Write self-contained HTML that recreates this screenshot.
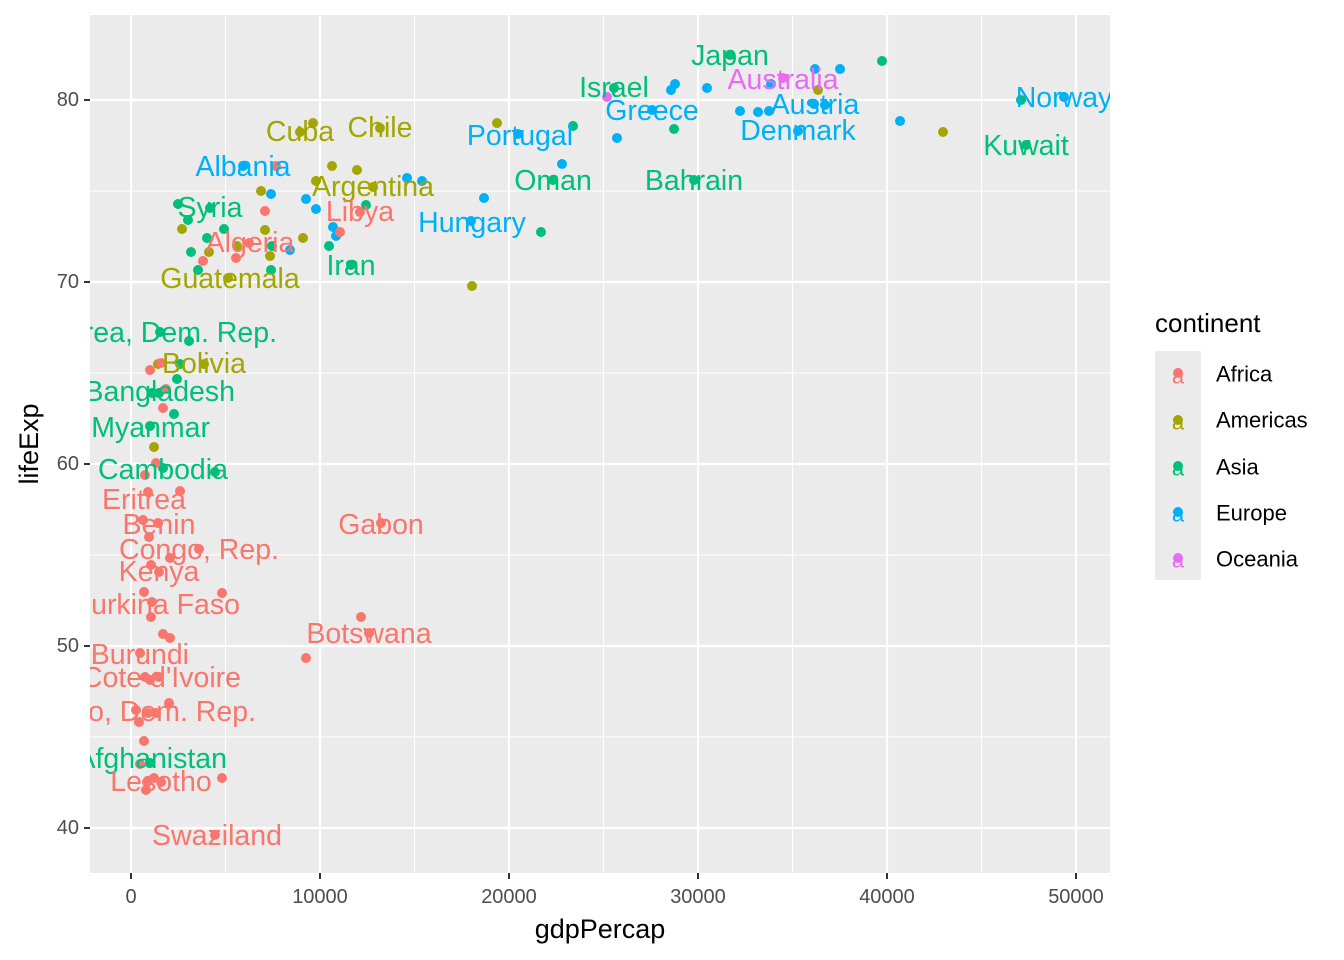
<!DOCTYPE html>
<html><head><meta charset="utf-8"><style>body{margin:0;background:#fff}svg{display:block}</style></head><body>
<svg width="1344" height="960" xmlns="http://www.w3.org/2000/svg" font-family="Liberation Sans, sans-serif">
<defs><clipPath id="c"><rect x="90" y="15" width="1020" height="858"/></clipPath></defs>
<rect x="90" y="15" width="1020" height="858" fill="#ebebeb"/>
<g stroke="#fff" stroke-width="1.1">
<line x1="225.5" y1="15" x2="225.5" y2="873"/><line x1="414.5" y1="15" x2="414.5" y2="873"/><line x1="603.5" y1="15" x2="603.5" y2="873"/><line x1="792.5" y1="15" x2="792.5" y2="873"/><line x1="981.5" y1="15" x2="981.5" y2="873"/>
<line x1="90" y1="191" x2="1110" y2="191"/><line x1="90" y1="373" x2="1110" y2="373"/><line x1="90" y1="555" x2="1110" y2="555"/><line x1="90" y1="737" x2="1110" y2="737"/>
</g>
<g stroke="#fff" stroke-width="2.2">
<line x1="131" y1="15" x2="131" y2="873"/><line x1="320" y1="15" x2="320" y2="873"/><line x1="509" y1="15" x2="509" y2="873"/><line x1="698" y1="15" x2="698" y2="873"/><line x1="887" y1="15" x2="887" y2="873"/><line x1="1076" y1="15" x2="1076" y2="873"/>
<line x1="90" y1="100" x2="1110" y2="100"/><line x1="90" y1="282" x2="1110" y2="282"/><line x1="90" y1="464" x2="1110" y2="464"/><line x1="90" y1="646" x2="1110" y2="646"/><line x1="90" y1="828" x2="1110" y2="828"/>
</g>
<g clip-path="url(#c)">
<g fill="#00B0F6">
<circle cx="243" cy="166" r="5"/><circle cx="271" cy="194" r="5"/><circle cx="306" cy="199" r="5"/><circle cx="316" cy="209" r="5"/><circle cx="333" cy="227" r="5"/><circle cx="336" cy="236" r="5"/><circle cx="290" cy="250" r="5"/><circle cx="407" cy="178" r="5"/><circle cx="422" cy="181" r="5"/><circle cx="484" cy="198" r="5"/><circle cx="471" cy="221" r="5"/><circle cx="518" cy="134" r="5"/><circle cx="562" cy="164" r="5"/><circle cx="617" cy="138" r="5"/><circle cx="652" cy="110" r="5"/><circle cx="675" cy="84" r="5"/><circle cx="671" cy="90" r="5"/><circle cx="707" cy="88" r="5"/><circle cx="740" cy="111" r="5"/><circle cx="758" cy="112" r="5"/><circle cx="769" cy="111" r="5"/><circle cx="771" cy="84" r="5"/><circle cx="798" cy="131" r="5"/><circle cx="815" cy="69" r="5"/><circle cx="840" cy="69" r="5"/><circle cx="814" cy="104" r="5"/><circle cx="825" cy="105" r="5"/><circle cx="900" cy="121" r="5"/><circle cx="1064" cy="97" r="5"/>
</g>
<g fill="#00BF7D">
<circle cx="730" cy="55" r="5"/><circle cx="882" cy="61" r="5"/><circle cx="614" cy="88" r="5"/><circle cx="573" cy="126" r="5"/><circle cx="674" cy="129" r="5"/><circle cx="553" cy="180" r="5"/><circle cx="694" cy="180" r="5"/><circle cx="541" cy="232" r="5"/><circle cx="366" cy="205" r="5"/><circle cx="329" cy="246" r="5"/><circle cx="351" cy="265" r="5"/><circle cx="272" cy="246" r="5"/><circle cx="271" cy="270" r="5"/><circle cx="178" cy="204" r="5"/><circle cx="210" cy="208" r="5"/><circle cx="188" cy="220" r="5"/><circle cx="224" cy="229" r="5"/><circle cx="207" cy="238" r="5"/><circle cx="191" cy="252" r="5"/><circle cx="198" cy="270" r="5"/><circle cx="160" cy="332" r="5"/><circle cx="189" cy="341" r="5"/><circle cx="180" cy="364" r="5"/><circle cx="177" cy="379" r="5"/><circle cx="152" cy="393" r="5"/><circle cx="159" cy="393" r="5"/><circle cx="174" cy="414" r="5"/><circle cx="150" cy="426" r="5"/><circle cx="215" cy="472" r="5"/><circle cx="163" cy="468" r="5"/><circle cx="150" cy="763" r="5"/><circle cx="1026" cy="145" r="5"/><circle cx="1021" cy="100" r="5"/>
</g>
<g fill="#A3A500">
<circle cx="300" cy="132" r="5"/><circle cx="313" cy="123" r="5"/><circle cx="380" cy="128" r="5"/><circle cx="497" cy="123" r="5"/><circle cx="943" cy="132" r="5"/><circle cx="818" cy="90" r="5"/><circle cx="332" cy="166" r="5"/><circle cx="357" cy="170" r="5"/><circle cx="316" cy="181" r="5"/><circle cx="373" cy="187" r="5"/><circle cx="261" cy="191" r="5"/><circle cx="265" cy="230" r="5"/><circle cx="182" cy="229" r="5"/><circle cx="303" cy="238" r="5"/><circle cx="270" cy="256" r="5"/><circle cx="228" cy="278" r="5"/><circle cx="209" cy="252" r="5"/><circle cx="204" cy="364" r="5"/><circle cx="158" cy="364" r="5"/><circle cx="154" cy="447" r="5"/><circle cx="472" cy="286" r="5"/><circle cx="237" cy="246" r="5"/>
</g>
<g fill="#F8766D">
<circle cx="276" cy="166" r="5"/><circle cx="265" cy="211" r="5"/><circle cx="360" cy="212" r="5"/><circle cx="340" cy="232" r="5"/><circle cx="249" cy="243" r="5"/><circle cx="236" cy="258" r="5"/><circle cx="203" cy="261" r="5"/><circle cx="150" cy="370" r="5"/><circle cx="161" cy="363" r="5"/><circle cx="166" cy="389" r="5"/><circle cx="163" cy="408" r="5"/><circle cx="156" cy="463" r="5"/><circle cx="145" cy="475" r="5"/><circle cx="148" cy="492" r="5"/><circle cx="180" cy="491" r="5"/><circle cx="143" cy="520" r="5"/><circle cx="158" cy="523" r="5"/><circle cx="149" cy="537" r="5"/><circle cx="199" cy="549" r="5"/><circle cx="170" cy="558" r="5"/><circle cx="151" cy="565" r="5"/><circle cx="159" cy="572" r="5"/><circle cx="144" cy="592" r="5"/><circle cx="222" cy="593" r="5"/><circle cx="152" cy="602" r="5"/><circle cx="151" cy="617" r="5"/><circle cx="163" cy="634" r="5"/><circle cx="170" cy="638" r="5"/><circle cx="381" cy="523" r="5"/><circle cx="361" cy="617" r="5"/><circle cx="369" cy="633" r="5"/><circle cx="306" cy="658" r="5"/><circle cx="140" cy="653" r="5"/><circle cx="145" cy="677" r="5"/><circle cx="150" cy="680" r="5"/><circle cx="159" cy="677" r="5"/><circle cx="169" cy="703" r="5"/><circle cx="136" cy="710" r="5"/><circle cx="148" cy="713" r="5"/><circle cx="139" cy="722" r="5"/><circle cx="144" cy="741" r="5"/><circle cx="140" cy="764" r="5"/><circle cx="147" cy="782" r="5"/><circle cx="154" cy="778" r="5"/><circle cx="161" cy="782" r="5"/><circle cx="222" cy="778" r="5"/><circle cx="146" cy="790" r="5"/><circle cx="215" cy="835" r="5"/><circle cx="156" cy="713" r="5"/>
</g>
<g fill="#E76BF3"><circle cx="783" cy="78" r="5"/><circle cx="607" cy="97" r="5"/></g>
<g font-size="28.5" text-anchor="middle" dominant-baseline="central">
<g fill="#00BF7D">
<text x="730" y="56">Japan</text><text x="614" y="88">Israel</text><text x="1026" y="146">Kuwait</text><text x="553" y="181">Oman</text><text x="694" y="181">Bahrain</text><text x="210" y="208">Syria</text><text x="351" y="266">Iran</text><text x="163" y="470">Cambodia</text>
<text x="277" y="333" text-anchor="end">Korea, Dem. Rep.</text><text x="235" y="392" text-anchor="end">Bangladesh</text><text x="210" y="428" text-anchor="end">Myanmar</text><text x="227" y="759" text-anchor="end">Afghanistan</text>
</g>
<g fill="#00B0F6">
<text x="1064" y="98">Norway</text><text x="652" y="111">Greece</text><text x="815" y="105">Austria</text><text x="520" y="136">Portugal</text><text x="798" y="131">Denmark</text><text x="243" y="167">Albania</text><text x="472" y="223">Hungary</text>
</g>
<g fill="#E76BF3"><text x="783" y="80">Australia</text></g>
<g fill="#A3A500">
<text x="300" y="132">Cuba</text><text x="380" y="128">Chile</text><text x="373" y="187">Argentina</text><text x="230" y="279">Guatemala</text><text x="204" y="364">Bolivia</text>
</g>
<g fill="#F8766D">
<text x="360" y="212">Libya</text><text x="250" y="243">Algeria</text><text x="144" y="500">Eritrea</text><text x="159" y="525">Benin</text><text x="199" y="550">Congo, Rep.</text><text x="159" y="572">Kenya</text><text x="381" y="525">Gabon</text><text x="369" y="634">Botswana</text><text x="161" y="782">Lesotho</text><text x="217" y="836">Swaziland</text>
<text x="240" y="605" text-anchor="end">Burkina Faso</text><text x="189" y="655" text-anchor="end">Burundi</text><text x="241" y="678" text-anchor="end">Cote d'Ivoire</text><text x="256" y="712" text-anchor="end">Congo, Dem. Rep.</text>
</g>
</g>
</g>
<g stroke="#333" stroke-width="2">
<line x1="131" y1="873" x2="131" y2="879"/><line x1="320" y1="873" x2="320" y2="879"/><line x1="509" y1="873" x2="509" y2="879"/><line x1="698" y1="873" x2="698" y2="879"/><line x1="887" y1="873" x2="887" y2="879"/><line x1="1076" y1="873" x2="1076" y2="879"/>
<line x1="84" y1="100" x2="90" y2="100"/><line x1="84" y1="282" x2="90" y2="282"/><line x1="84" y1="464" x2="90" y2="464"/><line x1="84" y1="646" x2="90" y2="646"/><line x1="84" y1="828" x2="90" y2="828"/>
</g>
<g font-size="20" fill="#4d4d4d" text-anchor="middle">
<text x="131" y="903">0</text><text x="320" y="903">10000</text><text x="509" y="903">20000</text><text x="698" y="903">30000</text><text x="887" y="903">40000</text><text x="1076" y="903">50000</text>
</g>
<g font-size="20" fill="#4d4d4d" text-anchor="end" dominant-baseline="central">
<text x="79" y="100">80</text><text x="79" y="282">70</text><text x="79" y="464">60</text><text x="79" y="646">50</text><text x="79" y="828">40</text>
</g>
<text x="600" y="938" font-size="27" text-anchor="middle">gdpPercap</text>
<text transform="translate(38,444) rotate(-90)" font-size="27" text-anchor="middle">lifeExp</text>
<text x="1155" y="332" font-size="26">continent</text>
<rect x="1155" y="351" width="46" height="229" fill="#ebebeb"/>
<g font-size="22" text-anchor="middle" dominant-baseline="central">
<text x="1178" y="376" fill="#F8766D">a</text><text x="1178" y="422" fill="#A3A500">a</text><text x="1178" y="468" fill="#00BF7D">a</text><text x="1178" y="514" fill="#00B0F6">a</text><text x="1178" y="560" fill="#E76BF3">a</text>
</g>
<g font-size="22" dominant-baseline="central">
<circle cx="1178" cy="373" r="5" fill="#F8766D"/><text x="1216" y="374">Africa</text>
<circle cx="1178" cy="420" r="5" fill="#A3A500"/><text x="1216" y="420">Americas</text>
<circle cx="1178" cy="466" r="5" fill="#00BF7D"/><text x="1216" y="467">Asia</text>
<circle cx="1178" cy="512" r="5" fill="#00B0F6"/><text x="1216" y="513">Europe</text>
<circle cx="1178" cy="558" r="5" fill="#E76BF3"/><text x="1216" y="559">Oceania</text>
</g>
</svg>
</body></html>
